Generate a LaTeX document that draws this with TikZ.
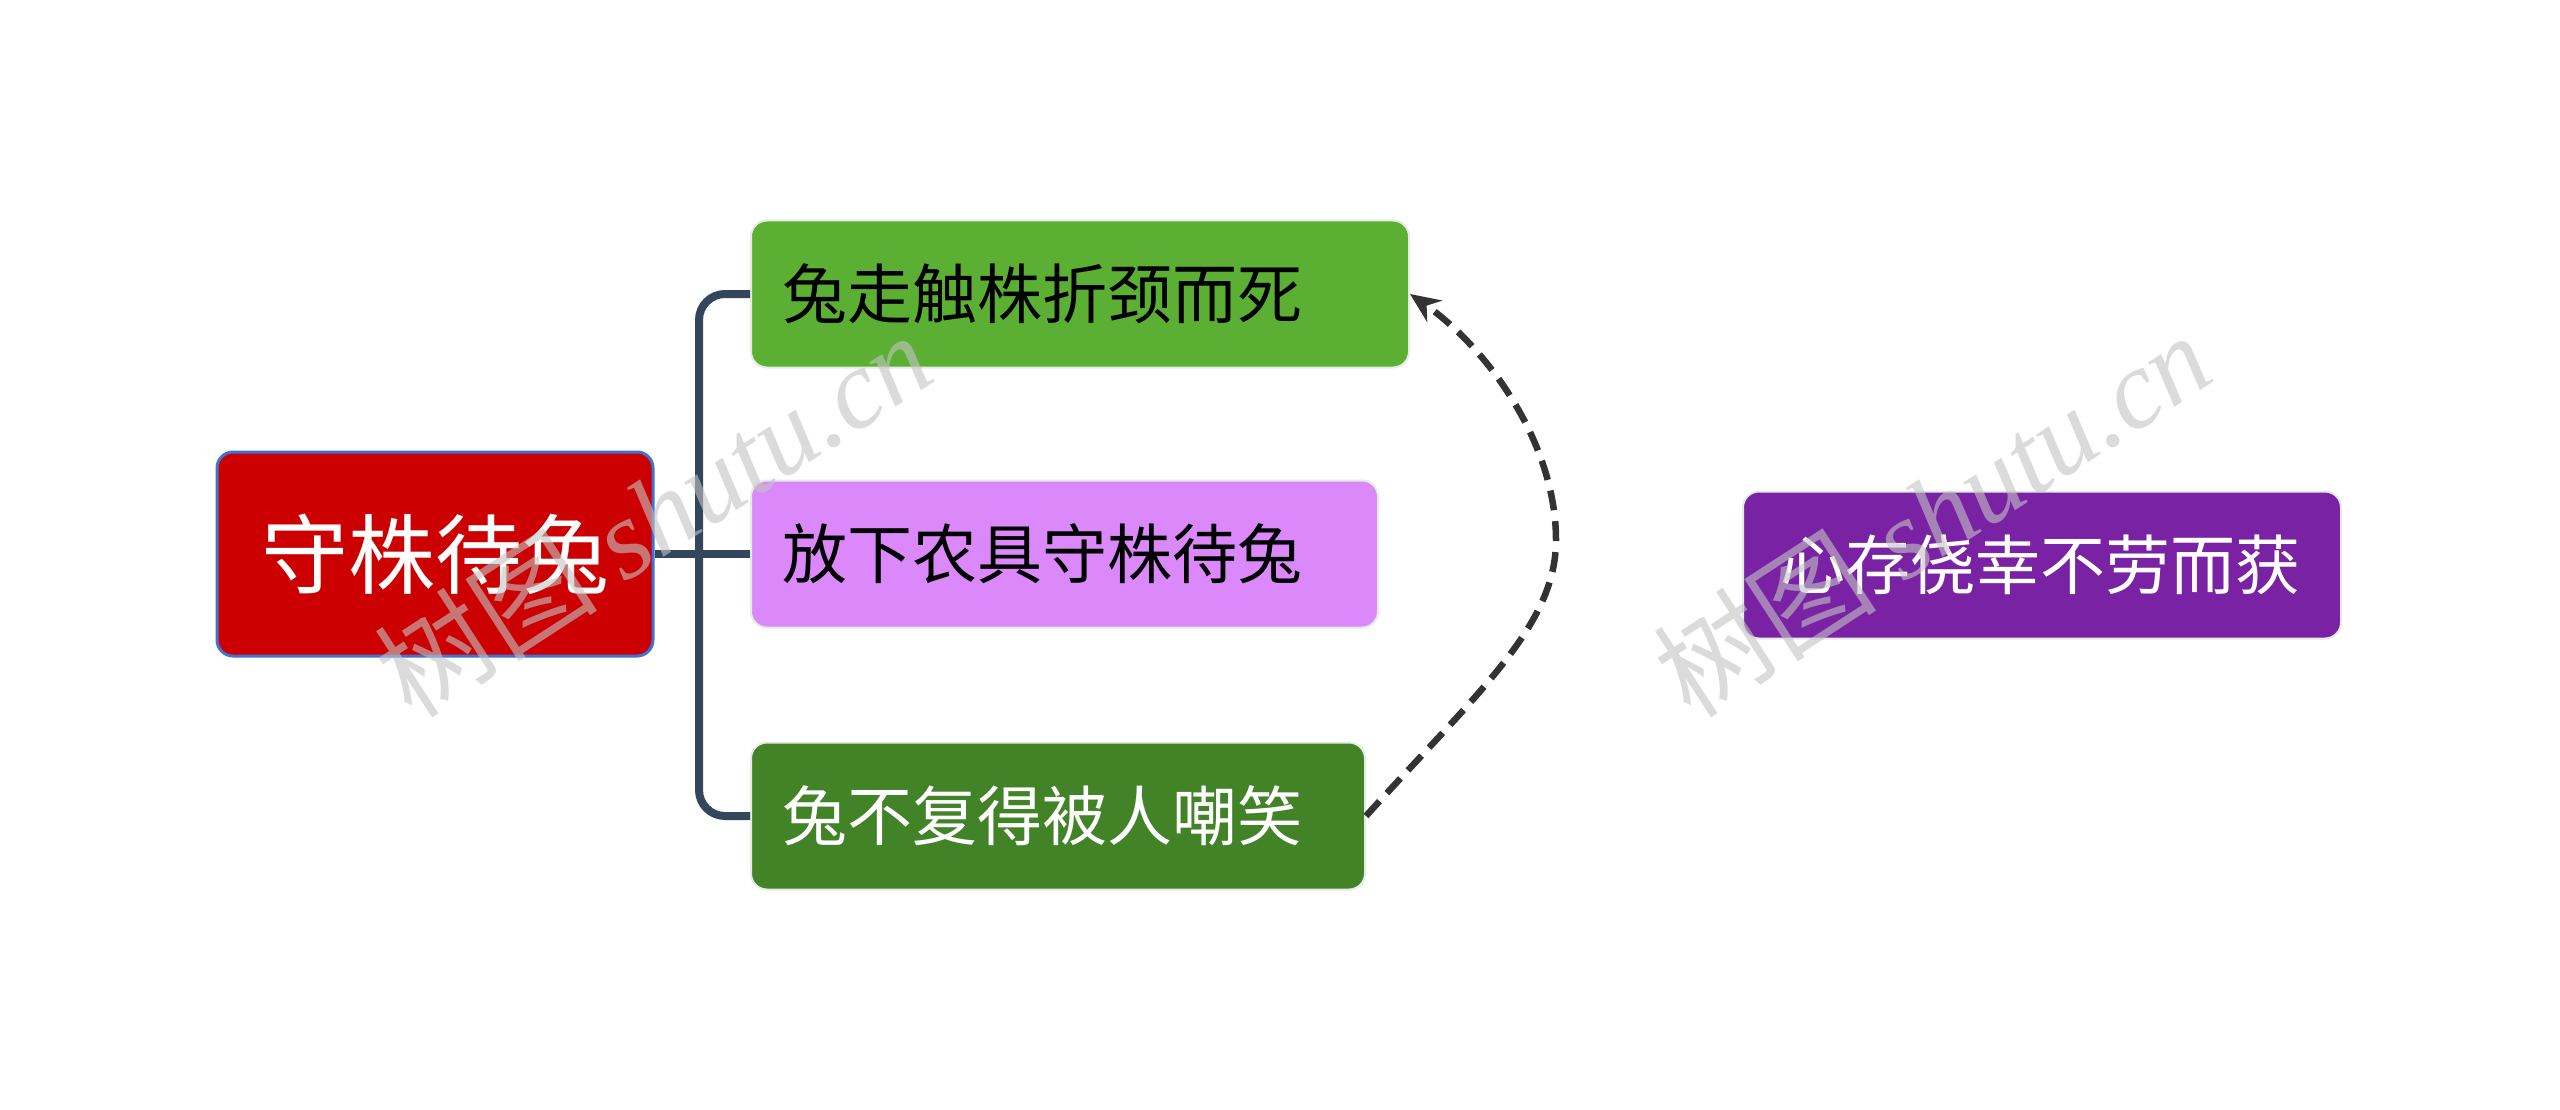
\documentclass[tikz,border=0pt]{standalone}
\usepackage{fontspec}
\setmainfont{Liberation Serif}
\newfontfamily\cjk{Noto Sans CJK SC}
\usetikzlibrary{arrows.meta}
\definecolor{rootred}{HTML}{CC0000}
\definecolor{rootblue}{HTML}{4272CF}
\definecolor{gone}{HTML}{5BB034}
\definecolor{pink}{HTML}{DA88FA}
\definecolor{gtwo}{HTML}{438328}
\definecolor{purp}{HTML}{7A22A4}
\definecolor{conn}{HTML}{34465C}
\definecolor{dashc}{HTML}{333333}
\definecolor{faint}{HTML}{E4ECE4}
\definecolor{wm}{HTML}{C4C4C4}
\begin{document}
\begin{tikzpicture}[x=1pt,y=-1pt,
  box/.style={rounded corners=16pt, draw=faint, line width=2pt, inner ysep=0pt,
    minimum height=147pt, align=left, inner xsep=31pt,
    font=\cjk\fontsize{65}{78}\selectfont, anchor=west},
  rootbox/.style={rounded corners=16pt, draw=rootblue, line width=3pt, fill=rootred,
    minimum width=436pt, minimum height=204pt, text=white,
    font=\cjk\fontsize{87}{100}\selectfont},
  branch/.style={draw=conn, line width=8pt, rounded corners=26pt},
  relation/.style={draw=dashc, line width=6.5pt, dash pattern=on 20pt off 11pt,
    -{Stealth[length=30pt,width=26pt]}},
  watermark/.style={text=wm, opacity=0.6, rotate=33, font=\fontsize{112}{120}\selectfont\itshape}
]
\useasboundingbox (0,0) rectangle (2560,1110);
\fill[white] (0,0) rectangle (2560,1110);

\node[rootbox] (root) at (435,554) {守株待兔};
\node[box, fill=gone, text width=596pt] (b1) at (750,294) {兔走触株折颈而死};
\node[box, fill=pink, text width=565pt] (b2) at (750,554) {放下农具守株待兔};
\node[box, fill=gtwo, text=white, text width=552pt] (b3) at (750,816) {兔不复得被人嘲笑};
\node[box, fill=purp, text=white, text width=524pt, inner xsep=37pt] (r) at (1742,565) {心存侥幸不劳而获};

\coordinate (jt) at (699,294);
\coordinate (jb) at (699,816);
\draw[branch] (b1.west) -- (jt) -- (jb) -- (b3.west);
\draw[draw=conn, line width=8pt] (root.east) -- (b2.west);

\coordinate (mid) at (1556,540);
\draw[relation] (b3.east) .. controls (1480,690) and (1556,625) .. (mid)
  .. controls (1556,445) and (1490,350) .. (b1.east);

\node[watermark] (wm1) at (653,514) {{\cjk 树图} shutu.cn};
\node[watermark] (wm2) at (1932,514) {{\cjk 树图} shutu.cn};
\end{tikzpicture}
\end{document}
